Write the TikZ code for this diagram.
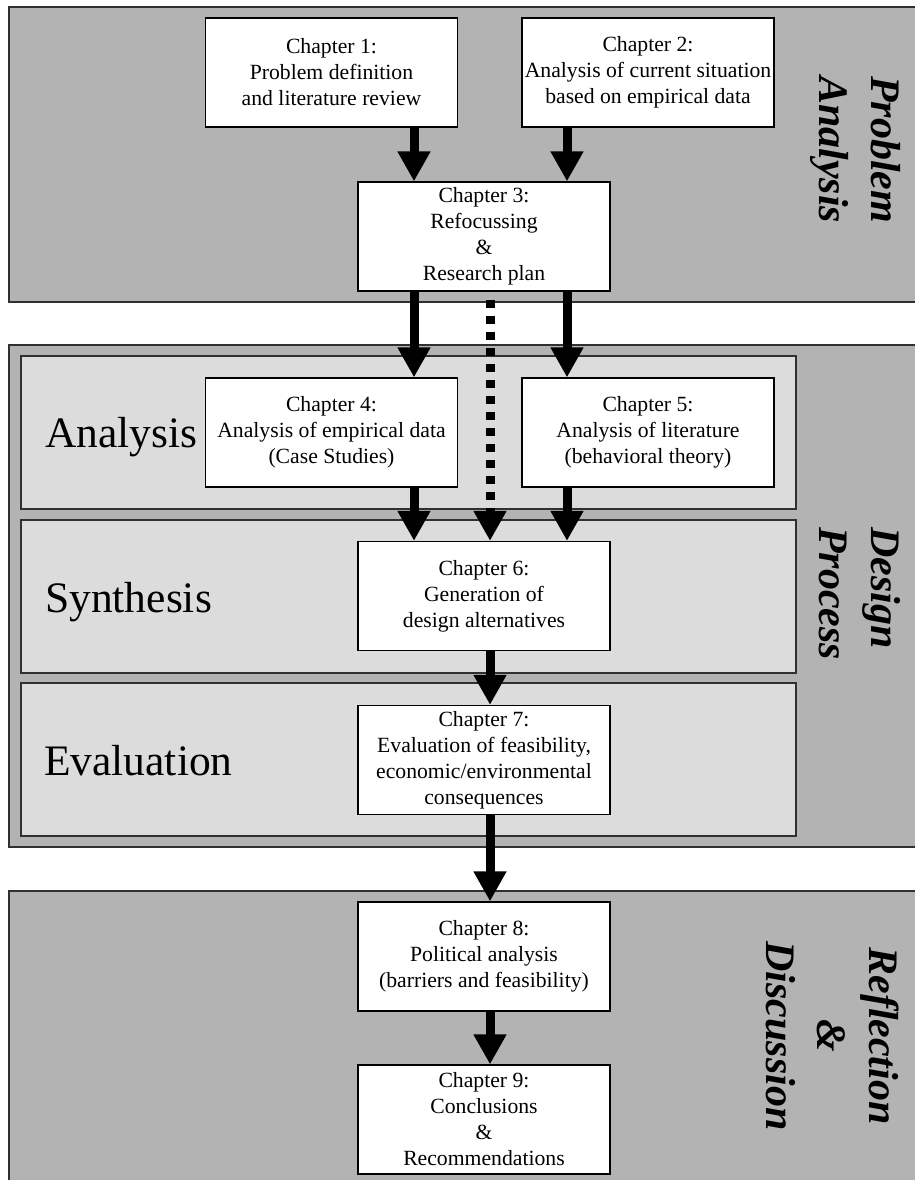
\documentclass[tikz,border=0pt]{standalone}
\usepackage{fontspec}
\setmainfont{Liberation Serif}
\usetikzlibrary{arrows.meta}
\definecolor{panelgray}{HTML}{B3B3B3}
\definecolor{stagegray}{HTML}{DCDCDC}
\definecolor{edgegray}{HTML}{303030}

\begin{document}
\begin{tikzpicture}[x=1pt,y=-1pt,
  panel/.style={fill=panelgray, draw=edgegray, line width=1.6pt},
  stage/.style={fill=stagegray, draw=edgegray, line width=1.4pt},
  chapter/.style={draw=black, fill=white, line width=1.2pt,
    minimum width=252pt, minimum height=109pt, inner sep=0pt,
    align=center, font=\fontsize{21.7}{26}\selectfont},
  stagelabel/.style={anchor=base west, inner sep=0pt,
    font=\fontsize{43.5}{50}\selectfont},
  sidelabel/.style={rotate=-90, inner sep=0pt,
    font=\fontsize{42}{50}\selectfont\bfseries\itshape},
  flow/.style={line width=9pt, -{Triangle[width=31pt,length=30pt]}},
  optflow/.style={flow, dash pattern=on 8pt off 8pt, dash phase=8pt}
]
\useasboundingbox (0,0) rectangle (915,1180);
\clip (0,0) rectangle (915,1180);

% phase panels
\path[panel] (9,7) rectangle (935,302);
\path[panel] (9,345) rectangle (935,847);
\path[panel] (9,891) rectangle (935,1200);

% design process stages
\path[stage] (21,356) rectangle (796,509);
\path[stage] (21,520) rectangle (796,673);
\path[stage] (21,683) rectangle (796,836);

% stage labels
\node[stagelabel] (lblana) at (45,447) {Analysis};
\node[stagelabel] (lblsyn) at (45,612) {Synthesis};
\node[stagelabel] (lbleva) at (44,775) {Evaluation};

% phase labels
\node[sidelabel, anchor=base west] (pa1) at (871,76) {Problem};
\node[sidelabel, anchor=base west] (pa2) at (819,76) {Analysis};
\node[sidelabel, anchor=base west] (dp1) at (871,527) {Design};
\node[sidelabel, anchor=base west] (dp2) at (819,527) {Process};
\node[sidelabel, anchor=base] (rd1) at (869,1036) {Reflection};
\node[sidelabel, anchor=base] (rd2) at (817,1036) {\&};
\node[sidelabel, anchor=base] (rd3) at (766,1036) {Discussion};

% chapters
\node[chapter] (ch1) at (331.5,72.5) {Chapter 1:\\Problem definition\\and literature review};
\node[chapter] (ch2) at (648,72.5) {Chapter 2:\\Analysis of current situation\\based on empirical data};
\node[chapter] (ch3) at (484,236.5) {Chapter 3:\\Refocussing\\\&\\Research plan};
\node[chapter] (ch4) at (331.5,432.5) {Chapter 4:\\Analysis of empirical data\\(Case Studies)};
\node[chapter] (ch5) at (648,432.5) {Chapter 5:\\Analysis of literature\\(behavioral theory)};
\node[chapter] (ch6) at (484,596) {Chapter 6:\\Generation of\\design alternatives};
\node[chapter] (ch7) at (484,760) {Chapter 7:\\Evaluation of feasibility,\\economic/environmental\\consequences};
\node[chapter] (ch8) at (484,956.5) {Chapter 8:\\Political analysis\\(barriers and feasibility)};
\node[chapter] (ch9) at (484,1119.5) {Chapter 9:\\Conclusions\\\&\\Recommendations};

% arrow lanes
\coordinate (lanel) at (414,0);
\coordinate (lanec) at (490,0);
\coordinate (laner) at (567,0);

\draw[flow] (ch1.south -| lanel) -- (ch3.north -| lanel);
\draw[flow] (ch2.south -| laner) -- (ch3.north -| laner);
\draw[flow] (ch3.south -| lanel) -- (ch4.north -| lanel);
\draw[flow] (ch3.south -| laner) -- (ch5.north -| laner);
\draw[optflow] (ch3.south -| lanec) -- (ch6.north -| lanec);
\draw[flow] (ch4.south -| lanel) -- (ch6.north -| lanel);
\draw[flow] (ch5.south -| laner) -- (ch6.north -| laner);
\draw[flow] (ch6.south -| lanec) -- (ch7.north -| lanec);
\draw[flow] (ch7.south -| lanec) -- (ch8.north -| lanec);
\draw[flow] (ch8.south -| lanec) -- (ch9.north -| lanec);
\end{tikzpicture}
\end{document}
